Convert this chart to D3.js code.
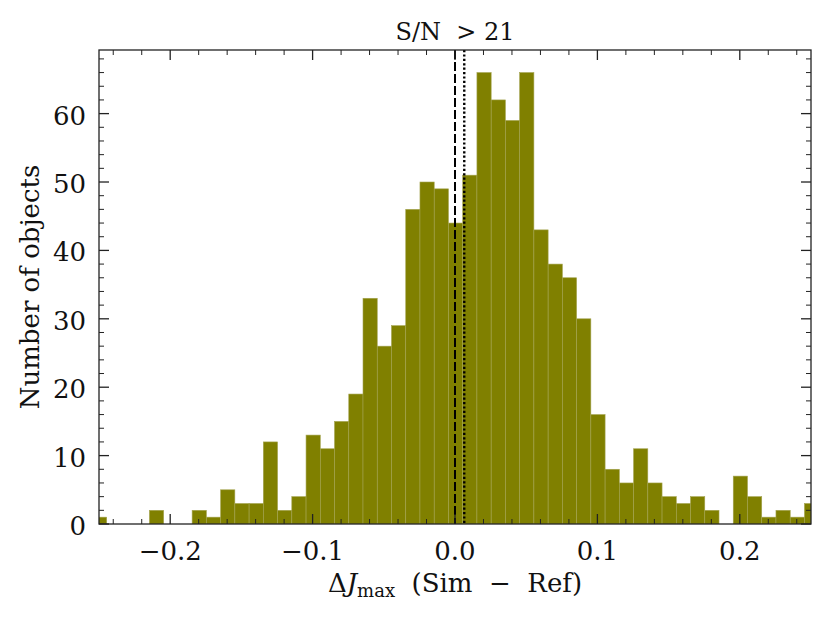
<!DOCTYPE html>
<html>
<head>
<meta charset="utf-8">
<script src="https://cdn.jsdelivr.net/npm/d3@7"></script>
<style>
  body { margin: 0; background: #fff; }
  text { font-family: "DejaVu Serif", serif; fill: #111; }
</style>
</head>
<body>
<div id="chart"></div>
<script>
// histogram of Delta J_max, bins of 0.01 starting at -0.2546
const binStart = -0.2546;
const binWidth = 0.01;
const counts = [1, 0, 0, 0, 2, 0, 0, 2, 1, 5,
  3, 3, 12, 2, 4, 13, 11, 15, 19, 33,
  26, 29, 46, 50, 49, 44, 51, 66, 62, 59,
  66, 43, 38, 36, 30, 16, 8, 6, 11, 6,
  4, 3, 4, 2, 0, 7, 4, 1, 2, 1, 3];
const xTicks = [-0.2, -0.1, 0.0, 0.1, 0.2];
const yTicks = [0, 10, 20, 30, 40, 50, 60];
const refValue = 0.0;      // dashed line
const medianValue = 0.0065; // dotted line
const titleText = "S/N  > 21";

const W = 830, H = 623;
const margin = { top: 50, right: 19, bottom: 99, left: 99 },
  width = W - margin.left - margin.right,
  height = H - margin.top - margin.bottom;

const svg = d3.select("#chart")
  .append("svg")
  .attr("width", W)
  .attr("height", H);

const g = svg.append("g")
  .attr("transform", `translate(${margin.left},${margin.top})`);

const x = d3.scaleLinear().domain([-0.25, 0.25]).range([0, width]);
const y = d3.scaleLinear().domain([0, 69.3]).range([height, 0]);

g.append("clipPath").attr("id", "clip")
  .append("rect").attr("width", width).attr("height", height);

const bins = counts.map((c, i) => ({ x0: binStart + i * binWidth, x1: binStart + (i + 1) * binWidth, n: c }));

g.append("g").attr("clip-path", "url(#clip)")
  .selectAll("rect")
  .data(bins.filter(d => d.n > 0))
  .join("rect")
  .attr("x", d => x(d.x0))
  .attr("width", d => x(d.x1) - x(d.x0))
  .attr("y", d => y(d.n))
  .attr("height", d => y(0) - y(d.n))
  .attr("fill", "#808000")
  .attr("stroke", "#a3a350")
  .attr("stroke-width", 0.6);

// vertical reference lines
g.append("line")
  .attr("x1", x(refValue)).attr("x2", x(refValue))
  .attr("y1", 0).attr("y2", height)
  .attr("stroke", "#000").attr("stroke-width", 2)
  .attr("stroke-dasharray", "9,3");
g.append("line")
  .attr("x1", x(medianValue)).attr("x2", x(medianValue))
  .attr("y1", 0).attr("y2", height)
  .attr("stroke", "#000").attr("stroke-width", 2.4)
  .attr("stroke-dasharray", "2.2,2.2");

// frame with inward ticks on all sides
const minorX = d3.range(-0.24, 0.2401, 0.02).filter(v => Math.abs(Math.round(v * 10) - v * 10) > 1e-6);
const minorY = d3.range(2, 69, 2).filter(v => v % 10 !== 0);

const tickG = g.append("g").attr("stroke", "#222");
function vTicks(vals, len, sw) {
  vals.forEach(v => {
    tickG.append("line").attr("x1", x(v)).attr("x2", x(v)).attr("y1", height).attr("y2", height - len).attr("stroke-width", sw);
    tickG.append("line").attr("x1", x(v)).attr("x2", x(v)).attr("y1", 0).attr("y2", len).attr("stroke-width", sw);
  });
}
function hTicks(vals, len, sw) {
  vals.forEach(v => {
    tickG.append("line").attr("y1", y(v)).attr("y2", y(v)).attr("x1", 0).attr("x2", len).attr("stroke-width", sw);
    tickG.append("line").attr("y1", y(v)).attr("y2", y(v)).attr("x1", width).attr("x2", width - len).attr("stroke-width", sw);
  });
}
vTicks(xTicks, 10, 1.3);
vTicks(minorX, 5, 1);
hTicks(yTicks, 10, 1.3);
hTicks(minorY, 5, 1);

g.append("rect")
  .attr("width", width).attr("height", height)
  .attr("fill", "none").attr("stroke", "#222").attr("stroke-width", 1.3);

// tick labels
const fmt = d => (d < 0 ? "\u2212" : "") + Math.abs(d).toFixed(1);
g.append("g").selectAll("text")
  .data(xTicks)
  .join("text")
  .attr("x", d => x(d))
  .attr("y", height + 36)
  .attr("text-anchor", "middle")
  .style("font-size", "26px")
  .text(fmt);

g.append("g").selectAll("text")
  .data(yTicks)
  .join("text")
  .attr("x", -13)
  .attr("y", d => y(d) + 11)
  .attr("text-anchor", "end")
  .style("font-size", "26px")
  .text(d => d);

// title
svg.append("text")
  .attr("x", margin.left + x(0))
  .attr("y", 40)
  .attr("text-anchor", "middle")
  .style("font-size", "24px")
  .style("white-space", "pre")
  .text(titleText);

// x label
const xl = svg.append("text")
  .attr("x", margin.left + x(0))
  .attr("y", 592)
  .attr("text-anchor", "middle")
  .style("font-size", "26px")
  .style("white-space", "pre");
xl.append("tspan").text("\u0394");
xl.append("tspan").style("font-style", "italic").text("J");
xl.append("tspan").attr("dy", 5).style("font-size", "18px").text("max");
xl.append("tspan").attr("dy", -5).text("  (Sim  \u2212  Ref)");

// y label
svg.append("text")
  .attr("transform", `translate(39,${margin.top + height / 2}) rotate(-90)`)
  .attr("text-anchor", "middle")
  .style("font-size", "26px")
  .text("Number of objects");
</script>
</body>
</html>
